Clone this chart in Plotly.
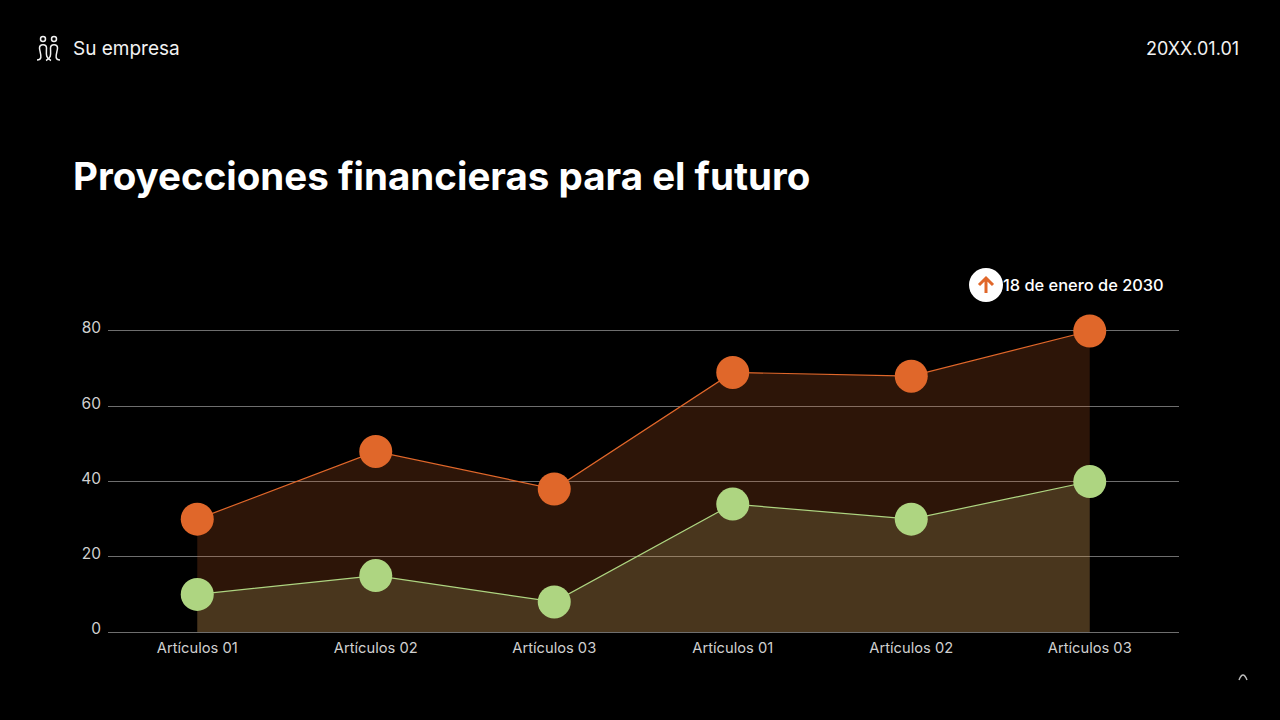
import plotly.graph_objects as go

categories = ["Artículos 01", "Artículos 02", "Artículos 03", "Artículos 01", "Artículos 02", "Artículos 03"]
positions = [0, 1, 2, 3, 4, 5]
serie_naranja = [30, 48, 38, 69, 68, 80]
serie_verde = [10, 15, 8, 34, 30, 40]
y_ticks = [0, 20, 40, 60, 80]

FONT = "Inter"
NARANJA = "#E0672A"
VERDE = "#AED581"
W, H = 1280, 720

# paper coords from pixels, margins are 0
def px(x):
    return x / W
def py(y):
    return 1 - y / H
def pt(x, y):
    return f"{px(x)} {py(y)}"

fig = go.Figure()
fig.add_trace(go.Scatter(
    x=positions, y=serie_naranja, mode="lines+markers", fill="tozeroy",
    fillcolor="rgba(224,103,42,0.2)", line=dict(color=NARANJA, width=1.2),
    marker=dict(color=NARANJA, size=33), cliponaxis=False, showlegend=False,
))
fig.add_trace(go.Scatter(
    x=positions, y=serie_verde, mode="lines+markers", fill="tozeroy",
    fillcolor="rgba(205,205,130,0.18)", line=dict(color=VERDE, width=1.2),
    marker=dict(color=VERDE, size=33), cliponaxis=False, showlegend=False,
))

def texto(x, y, s, size, color="#FFFFFF", anchor="left", weight=None):
    fig.add_annotation(
        xref="paper", yref="paper", x=px(x), y=py(y), text=s, showarrow=False,
        xanchor=anchor, yanchor="middle",
        font=dict(family=FONT, size=size, color=color, weight=weight),
    )

texto(71, 49, "Su empresa", 19, "#F2F2F2")
texto(1241, 49, "20XX.01.01", 18, "#F2F2F2", anchor="right")
texto(71, 176, "Proyecciones financieras para el futuro", 38.5, weight=700)
texto(1001, 285, "18 de enero de 2030", 16.4, weight=500)

# arrow badge over the last point
fig.add_shape(type="circle", xref="paper", yref="paper", x0=px(969), x1=px(1003), y0=py(302), y1=py(268),
              fillcolor="#FFFFFF", line=dict(width=0), layer="above")
fig.add_shape(type="path", xref="paper", yref="paper", layer="above",
              path=f"M {pt(986, 293)} L {pt(986, 278)} M {pt(979, 285)} L {pt(986, 278)} L {pt(993, 285)}",
              line=dict(color=NARANJA, width=3))

# logo, two little figures with crossing loops
logo_line = dict(color="#F2F2F2", width=1.5)
for cx in (43, 54):
    fig.add_shape(type="circle", xref="paper", yref="paper", x0=px(cx - 2.5), x1=px(cx + 2.5), y0=py(41.5), y1=py(36.5),
                  line=logo_line, layer="above")
fig.add_shape(type="path", xref="paper", yref="paper", layer="above", line=logo_line,
              path=f"M {pt(37, 60)} C {pt(44, 60)} {pt(39.5, 52)} {pt(39.5, 48)} "
                   f"C {pt(39.5, 43.5)} {pt(46.5, 43.5)} {pt(46.5, 48)} C {pt(46.5, 53)} {pt(45, 58)} {pt(51, 60.5)}")
fig.add_shape(type="path", xref="paper", yref="paper", layer="above", line=logo_line,
              path=f"M {pt(60, 60)} C {pt(53, 60)} {pt(57.5, 52)} {pt(57.5, 48)} "
                   f"C {pt(57.5, 43.5)} {pt(50.5, 43.5)} {pt(50.5, 48)} C {pt(50.5, 53)} {pt(52, 58)} {pt(46, 60.5)}")

# cut off page number in the corner
fig.add_shape(type="path", xref="paper", yref="paper", layer="above", line=dict(color="#BDBDBD", width=1.4),
              path=f"M {pt(1239, 680)} Q {pt(1243, 670)} {pt(1247, 680)}")

# range goes a bit past 80 or plotly drops the top gridline
y_top = 81
fig.update_layout(
    width=W, height=H, paper_bgcolor="#000000", plot_bgcolor="#000000",
    margin=dict(l=0, r=0, t=0, b=0, autoexpand=False), showlegend=False,
    font=dict(family=FONT, color="#D0D0D0", size=14),
    xaxis=dict(
        domain=[px(108), px(1179)], range=[-0.5, 5.5], tickvals=positions, ticktext=categories,
        showgrid=False, zeroline=False, showline=True, linecolor="#6E6E6E", ticks="", ticklabelstandoff=2,
        tickfont=dict(family=FONT, size=14.7, color="#D0D0D0"),
    ),
    yaxis=dict(
        domain=[py(632), py(632 - 301 * y_top / 80)], range=[0, y_top], tickvals=y_ticks, showgrid=True,
        gridcolor="#6E6E6E", gridwidth=1, zeroline=False, showline=False, ticks="", ticklabelstandoff=6,
        ticklabelshift=-3, tickfont=dict(family=FONT, size=15.5, color="#D0D0D0"),
    ),
)

fig.write_html("out.html", config=dict(displayModeBar=False), post_script="document.body.style.margin='0';")
